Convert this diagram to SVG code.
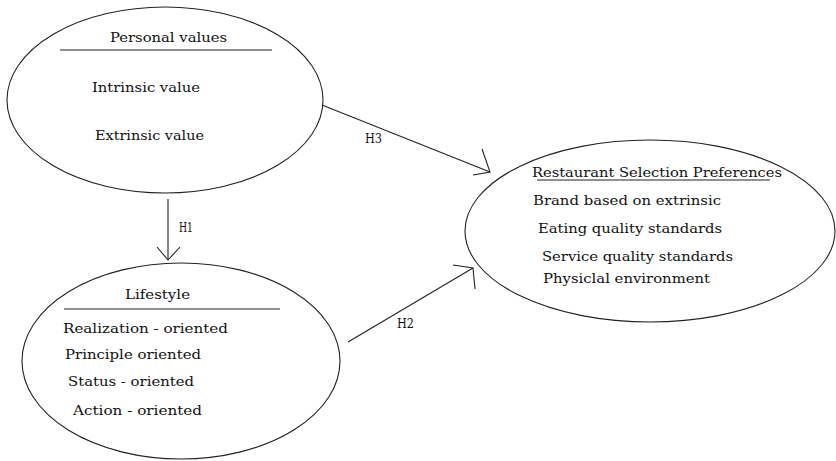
<svg xmlns="http://www.w3.org/2000/svg" width="836" height="461" viewBox="0 0 836 461">
<style>
.node ellipse{fill:none;stroke:#222;stroke-width:1.1}
.rule{stroke:#222;stroke-width:1.1}
text{font-family:"DejaVu Serif","Liberation Serif",serif;font-size:13px;fill:#111}
.conn line,.conn polyline{fill:none;stroke:#222;stroke-width:1.1}
</style>
<rect width="836" height="461" fill="#fff"/>
<g id="personal-values" class="node">
<ellipse cx="165" cy="100" rx="158" ry="93"/>
<text x="110" y="42" textLength="117" lengthAdjust="spacingAndGlyphs">Personal values</text>
<line class="rule" x1="60" y1="50" x2="272" y2="50"/>
<text x="92" y="92" textLength="108" lengthAdjust="spacingAndGlyphs">Intrinsic value</text>
<text x="95" y="140" textLength="109" lengthAdjust="spacingAndGlyphs">Extrinsic value</text>
</g>
<g id="lifestyle" class="node">
<ellipse cx="181" cy="361" rx="159" ry="98"/>
<text x="125" y="299" textLength="65" lengthAdjust="spacingAndGlyphs">Lifestyle</text>
<line class="rule" x1="64" y1="309" x2="280" y2="309"/>
<text x="63" y="333" textLength="165" lengthAdjust="spacingAndGlyphs">Realization - oriented</text>
<text x="65" y="359" textLength="136" lengthAdjust="spacingAndGlyphs">Principle oriented</text>
<text x="68" y="386" textLength="126" lengthAdjust="spacingAndGlyphs">Status - oriented</text>
<text x="73" y="415" textLength="129" lengthAdjust="spacingAndGlyphs">Action - oriented</text>
</g>
<g id="restaurant-selection" class="node">
<ellipse cx="650" cy="231" rx="185" ry="91"/>
<text x="532" y="177" textLength="250" lengthAdjust="spacingAndGlyphs">Restaurant Selection Preferences</text>
<line class="rule" x1="537" y1="180" x2="770" y2="180"/>
<text x="533" y="205" textLength="188" lengthAdjust="spacingAndGlyphs">Brand based on extrinsic</text>
<text x="538" y="233" textLength="184" lengthAdjust="spacingAndGlyphs">Eating quality standards</text>
<text x="542" y="261" textLength="191" lengthAdjust="spacingAndGlyphs">Service quality standards</text>
<text x="543" y="283" textLength="167" lengthAdjust="spacingAndGlyphs">Physiclal environment</text>
</g>
<g id="connectors" class="conn">
<line x1="168" y1="199" x2="168" y2="260"/>
<polyline points="157,247 168,260 180,247"/>
<text x="179" y="232" textLength="14" lengthAdjust="spacingAndGlyphs">H1</text>
<line x1="322" y1="105" x2="490" y2="172"/>
<polyline points="482,149 490,172 473,175"/>
<text x="365" y="143" textLength="17" lengthAdjust="spacingAndGlyphs">H3</text>
<line x1="348" y1="342" x2="473" y2="268"/>
<polyline points="453,265 473,268 475,289"/>
<text x="397" y="328" textLength="17" lengthAdjust="spacingAndGlyphs">H2</text>
</g>
</svg>
